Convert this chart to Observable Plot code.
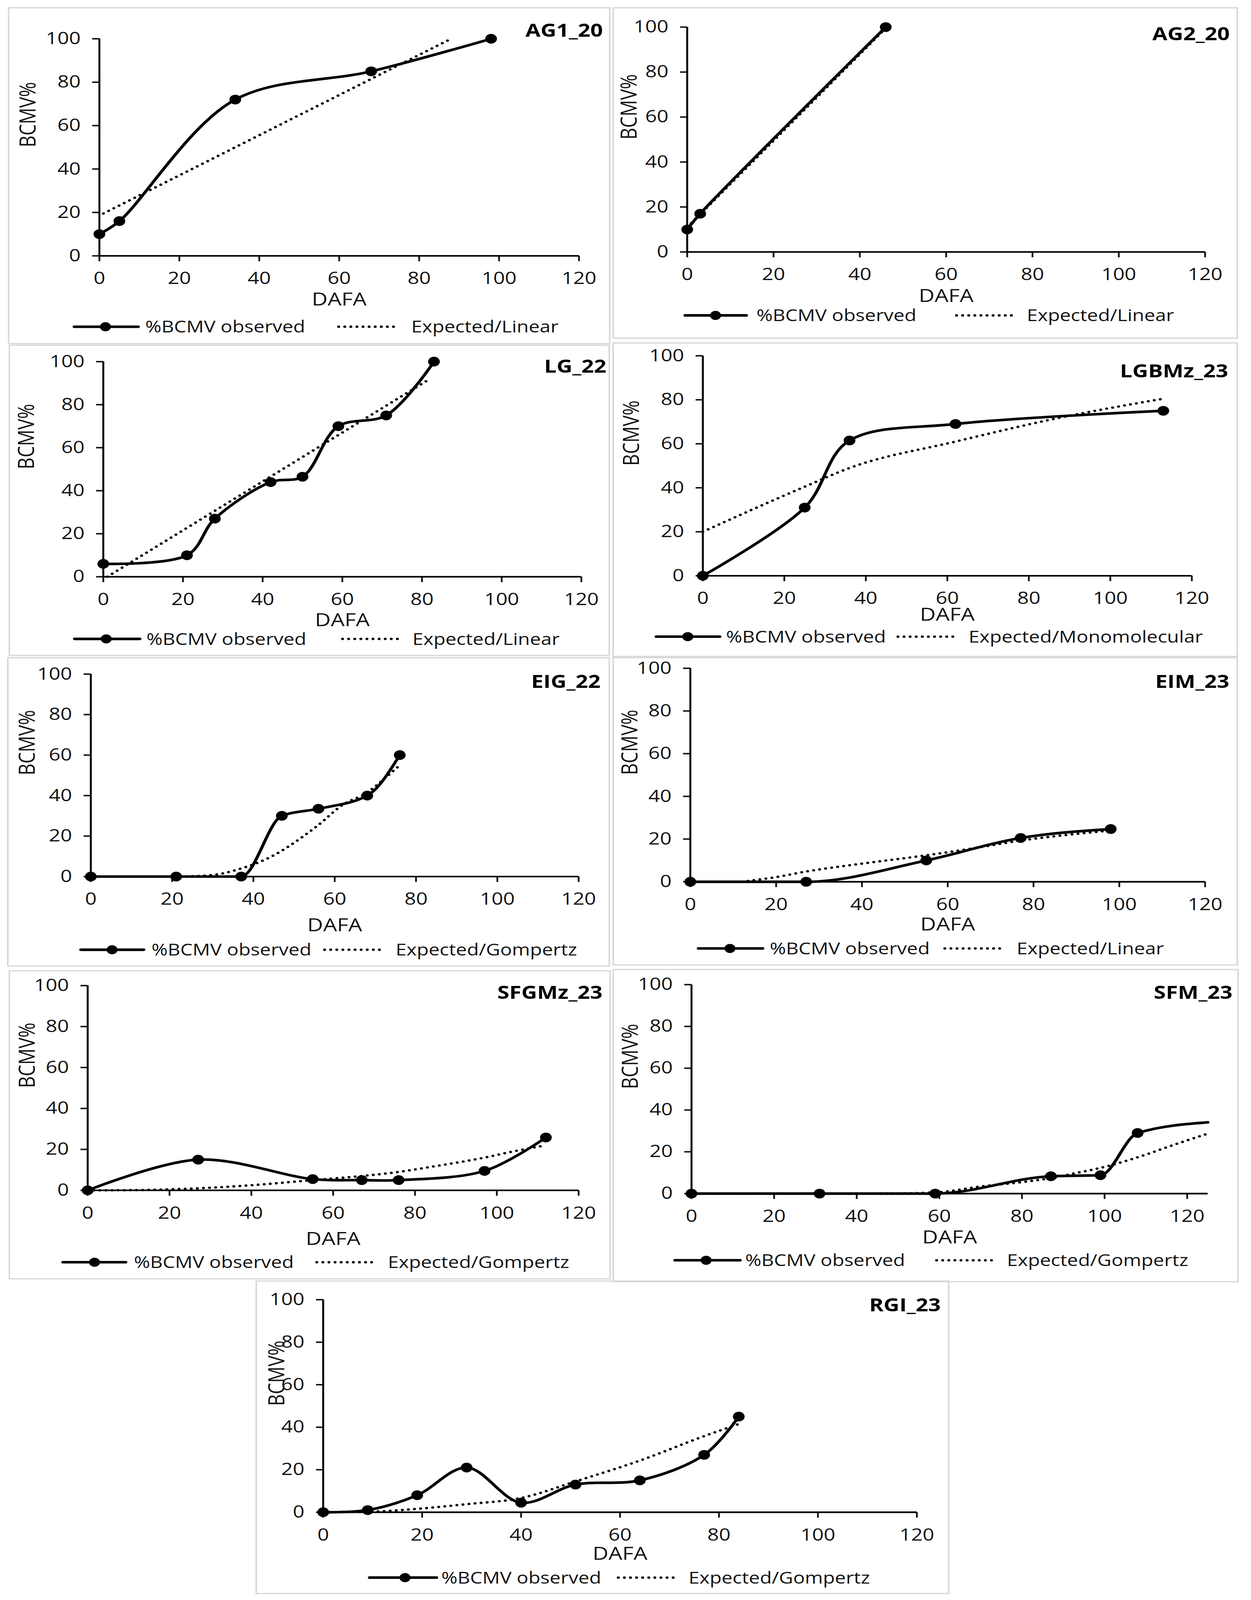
<!DOCTYPE html>
<html>
<head>
<meta charset="utf-8">
<script src="https://cdn.jsdelivr.net/npm/d3@7"></script>
<script src="https://cdn.jsdelivr.net/npm/@observablehq/plot@0.6"></script>
<style>
  html, body { margin: 0; padding: 0; background: #fff; overflow: hidden; }
  #fig { position: relative; width: 3203px; height: 4931px; background: #fff; font-family: 'Open Sans', sans-serif; overflow: hidden; transform-origin: 0 0; }
  .panel { position: absolute; }
  .frame { position: absolute; left: 0; top: 0; right: 0; bottom: 0; border: 4px solid #d9d9d9; box-sizing: border-box; pointer-events: none; }
</style>
</head>
<body>
<div id="fig"></div>
<script>
// ---------------- DATA ----------------
const panelNames = ["AG1_20", "AG2_20", "LG_22", "LGBMz_23", "EIG_22", "EIM_23", "SFGMz_23", "SFM_23", "RGI_23"];
const modelNames = ["Linear", "Linear", "Linear", "Monomolecular", "Gompertz", "Linear", "Gompertz", "Gompertz", "Gompertz"];
const xMax = [120, 120, 120, 120, 120, 120, 120, 125, 120];
const xTicks = [0, 20, 40, 60, 80, 100, 120];
const yTicks = [0, 20, 40, 60, 80, 100];
const xLabel = "DAFA";
const yLabel = "BCMV%";
const obsLabel = "%BCMV observed";

// observed %BCMV (DAFA, %)
const AG1_20_dafa = [0, 5, 34, 68, 98];
const AG1_20_obs  = [10, 16, 72, 85, 100];
const AG2_20_dafa = [0, 3, 46];
const AG2_20_obs  = [10, 17, 100];
const LG_22_dafa = [0, 21, 28, 42, 50, 59, 71, 83];
const LG_22_obs  = [6, 10, 27, 44, 46.5, 70, 75, 100];
const LGBMz_23_dafa = [0, 25, 36, 62, 113];
const LGBMz_23_obs  = [0, 31, 61.5, 69, 75];
const EIG_22_dafa = [0, 21, 37, 47, 56, 68, 76];
const EIG_22_obs  = [0, 0, 0, 30, 33.5, 40, 60];
const EIM_23_dafa = [0, 27, 55, 77, 98];
const EIM_23_obs  = [0, 0, 10, 20.5, 24.7];
const SFGMz_23_dafa = [0, 27, 55, 67, 76, 97, 112];
const SFGMz_23_obs  = [0, 15, 5.5, 5, 5, 9.5, 25.8];
const SFM_23_dafa = [0, 31, 59, 87, 99, 108, 125];   // last point: line reaches the axis end without a marker
const SFM_23_obs  = [0, 0, 0, 8.3, 8.8, 29, 34.1];
const RGI_23_dafa = [0, 9, 19, 29, 40, 51, 64, 77, 84];
const RGI_23_obs  = [0, 1, 8, 21, 4.5, 13, 15, 27, 45];

// expected (model) curves
const AG1_20_fitDafa = [1, 88];
const AG1_20_fit     = [19.5, 100];
const AG2_20_fitDafa = [0, 46];
const AG2_20_fit     = [11, 99.5];
const LG_22_fitDafa = [1, 82];
const LG_22_fit     = [0, 92];
const LGBMz_23_fitDafa = [0, 25, 36, 62, 88, 113];
const LGBMz_23_fit     = [20, 40.5, 49, 61, 72, 80.5];
const EIG_22_fitDafa = [22, 30, 37, 45, 52, 56, 62, 68, 72, 76];
const EIG_22_fit     = [0, 0.8, 4, 10.5, 19.5, 25.5, 35.5, 41.5, 48, 55];
const EIM_23_fitDafa = [12, 20, 27, 40, 55, 67, 77, 88, 98];
const EIM_23_fit     = [0, 2.2, 4.8, 8.5, 12.4, 16, 19.3, 22, 24];
const SFGMz_23_fitDafa = [0, 10, 20, 27, 40, 55, 67, 76, 84, 97, 104, 112];
const SFGMz_23_fit     = [0, 0.1, 0.5, 1, 2.5, 5, 7, 9, 11.5, 16, 19, 22];
const SFM_23_fitDafa = [0, 30, 50, 60, 70, 80, 87, 93, 99, 109, 117, 125];
const SFM_23_fit     = [0, 0, 0.1, 0.7, 3.4, 5.5, 7.4, 9.8, 12.3, 18, 23.5, 28.7];
const RGI_23_fitDafa = [0, 10, 19, 29, 40, 51, 64, 77, 84];
const RGI_23_fit     = [0, 0.3, 1.6, 3.8, 6.7, 14.5, 24.3, 35.8, 41.5];

const observedX = [AG1_20_dafa, AG2_20_dafa, LG_22_dafa, LGBMz_23_dafa, EIG_22_dafa, EIM_23_dafa, SFGMz_23_dafa, SFM_23_dafa, RGI_23_dafa];
const observedY = [AG1_20_obs, AG2_20_obs, LG_22_obs, LGBMz_23_obs, EIG_22_obs, EIM_23_obs, SFGMz_23_obs, SFM_23_obs, RGI_23_obs];
const expectedX = [AG1_20_fitDafa, AG2_20_fitDafa, LG_22_fitDafa, LGBMz_23_fitDafa, EIG_22_fitDafa, EIM_23_fitDafa, SFGMz_23_fitDafa, SFM_23_fitDafa, RGI_23_fitDafa];
const expectedY = [AG1_20_fit, AG2_20_fit, LG_22_fit, LGBMz_23_fit, EIG_22_fit, EIM_23_fit, SFGMz_23_fit, SFM_23_fit, RGI_23_fit];

// ---------------- LAYOUT (page pixels) & style ----------------
const layout = [
  {L: 20,   T: 22,   R: 1563, B: 1061, x0: 254,  x1: 1482, y0: 788,  y100: 119,  tR: 1543, tB: 113,  yl: 181, xl: 137, lY: 1007, lg: [190, 354, 270, 372, 867, 1022, 1053]},
  {L: 1568, T: 22,   R: 3170, B: 1044, x0: 1759, x1: 3085, y0: 776,  y100: 83,   tR: 3148, tB: 123,  yl: 147, xl: 138, lY: 972,  lg: [1754, 1911, 1832, 1937, 2449, 2603, 2629]},
  {L: 22,   T: 1062, R: 1562, B: 2022, x0: 264,  x1: 1488, y0: 1777, y100: 1114, tR: 1552, tB: 1148, yl: 195, xl: 136, lY: 1969, lg: [191, 358, 272, 375, 877, 1026, 1056]},
  {L: 1568, T: 1055, R: 3170, B: 2025, x0: 1799, x1: 3051, y0: 1774, y100: 1096, tR: 3144, tB: 1162, yl: 181, xl: 122, lY: 1962, lg: [1680, 1843, 1761, 1859, 2299, 2451, 2480]},
  {L: 18,   T: 2025, R: 1562, B: 2979, x0: 232,  x1: 1481, y0: 2701, y100: 2077, tR: 1537, tB: 2120, yl: 161, xl: 153, lY: 2927, lg: [207, 368, 287, 388, 831, 982, 1013]},
  {L: 1568, T: 2025, R: 3170, B: 2976, x0: 1767, x1: 3085, y0: 2717, y100: 2059, tR: 3147, tB: 2120, yl: 153, xl: 134, lY: 2923, lg: [1788, 1953, 1869, 1971, 2419, 2571, 2603]},
  {L: 22,   T: 2990, R: 1564, B: 3943, x0: 224,  x1: 1481, y0: 3668, y100: 3037, tR: 1542, tB: 3078, yl: 153, xl: 152, lY: 3890, lg: [161, 322, 242, 343, 811, 962, 993]},
  {L: 1568, T: 2986, R: 3172, B: 3952, x0: 1770, x1: 3092, y0: 3678, y100: 3034, tR: 3155, tB: 3078, yl: 155, xl: 137, lY: 3884, lg: [1728, 1895, 1808, 1908, 2398, 2550, 2578]},
  {L: 654,  T: 3946, R: 2431, B: 4913, x0: 827,  x1: 2347, y0: 4660, y100: 4005, tR: 2408, tB: 4041, yl: 117, xl: 131, lY: 4862, lg: [946, 1118, 1037, 1130, 1583, 1731, 1763]}
];
// smoothing of the observed line (monotone where the series sits flat on 0)
const obsCurve = ["catmull-rom", "catmull-rom", "catmull-rom", "catmull-rom", "monotone-x", "monotone-x", "catmull-rom", "monotone-x", "catmull-rom"];

const FONT = "'Open Sans', 'Liberation Sans', sans-serif";
const DOT_DASH = "0.1 15.5";
const XLABEL_SHIFT = 16;
const PAGE_H = 4931;
const fig = document.getElementById("fig");

panelNames.forEach((name, i) => {
  const p = layout[i];
  const W = p.R - p.L;
  const H = p.lY - 40 - p.T;
  const obs = observedX[i].map((x, k) => ({x, y: observedY[i][k]}));
  const exp = expectedX[i].map((x, k) => ({x, y: expectedY[i][k]}));
  const xm = xMax[i];

  const wrap = document.createElement("div");
  wrap.className = "panel";
  wrap.style.left = p.L + "px";
  wrap.style.top = p.T + "px";
  wrap.style.width = W + "px";
  wrap.style.height = (p.B - p.T) + "px";

  const chart = Plot.plot({
    width: W,
    height: H,
    marginLeft: p.x0 - p.L,
    marginRight: p.R - p.x1,
    marginTop: p.y100 - p.T,
    marginBottom: H - (p.y0 - p.T),
    x: {domain: [0, xm]},
    y: {domain: [0, 100]},
    style: {fontFamily: FONT, fontSize: "52px", color: "#111", background: "transparent", overflow: "visible"},
    marks: [
      Plot.axisX({ticks: xTicks, tickSize: 17, tickPadding: 33, strokeWidth: 4.5, label: null}),
      Plot.axisY({ticks: yTicks, tickSize: 18, tickPadding: 30, strokeWidth: 4.5, label: null}),
      Plot.ruleY([0], {stroke: "#000", strokeWidth: 5}),
      Plot.ruleX([0], {stroke: "#000", strokeWidth: 5}),
      Plot.line(exp, {x: "x", y: "y", curve: "monotone-x", stroke: "#000", strokeWidth: 7.5, strokeDasharray: DOT_DASH, strokeLinecap: "round"}),
      Plot.line(obs, {x: "x", y: "y", curve: obsCurve[i], stroke: "#000", strokeWidth: 8, strokeLinejoin: "round"}),
      Plot.dot(obs.filter(d => d.x < xm), {x: "x", y: "y", r: 15, fill: "#000", stroke: "none"}),
      Plot.text([xLabel], {text: d => d, frameAnchor: "bottom", dy: p.xl + XLABEL_SHIFT, fontSize: 56, fill: "#111"}),
      Plot.text([yLabel], {text: d => d, frameAnchor: "left", dx: -p.yl, rotate: -90, fontSize: 56, fill: "#111"}),
      Plot.text([name], {text: d => d, frameAnchor: "top-right", textAnchor: "end", lineAnchor: "bottom",
                         dx: p.tR - p.x1, dy: p.tB - p.y100, fontSize: 56, fontWeight: "bold", fill: "#000"})
    ]
  });
  chart.style.position = "absolute";
  chart.style.left = "0px";
  chart.style.top = "0px";
  wrap.appendChild(chart);

  // legend, placed below the svg
  const lh = 80, cy = 40;
  const lg = p.lg.map(v => v - p.L);
  const leg = d3.create("svg")
    .attr("width", W).attr("height", lh)
    .style("position", "absolute").style("left", "0px").style("top", (p.lY - 40 - p.T) + "px")
    .style("font-family", FONT).style("font-size", "50px");
  leg.append("line").attr("x1", lg[0]).attr("x2", lg[1]).attr("y1", cy).attr("y2", cy)
    .attr("stroke", "#000").attr("stroke-width", 8).attr("stroke-linecap", "round");
  leg.append("circle").attr("cx", lg[2]).attr("cy", cy).attr("r", 14).attr("fill", "#000");
  leg.append("text").attr("x", lg[3]).attr("y", cy).attr("dy", "0.36em").attr("fill", "#111").text(obsLabel);
  leg.append("line").attr("x1", lg[4]).attr("x2", lg[5]).attr("y1", cy).attr("y2", cy)
    .attr("stroke", "#000").attr("stroke-width", 7.5).attr("stroke-dasharray", DOT_DASH).attr("stroke-linecap", "round");
  leg.append("text").attr("x", lg[6]).attr("y", cy).attr("dy", "0.36em").attr("fill", "#111").text("Expected/" + modelNames[i]);
  wrap.appendChild(leg.node());

  const frame = document.createElement("div");
  frame.className = "frame";
  wrap.appendChild(frame);
  fig.appendChild(wrap);
});

// the browser viewport may be shorter than the figure: fit the figure's height into it
const fit = Math.min(1, window.innerHeight / PAGE_H);
if (fit < 1) fig.style.transform = "scale(1," + fit + ")";
</script>
</body>
</html>
